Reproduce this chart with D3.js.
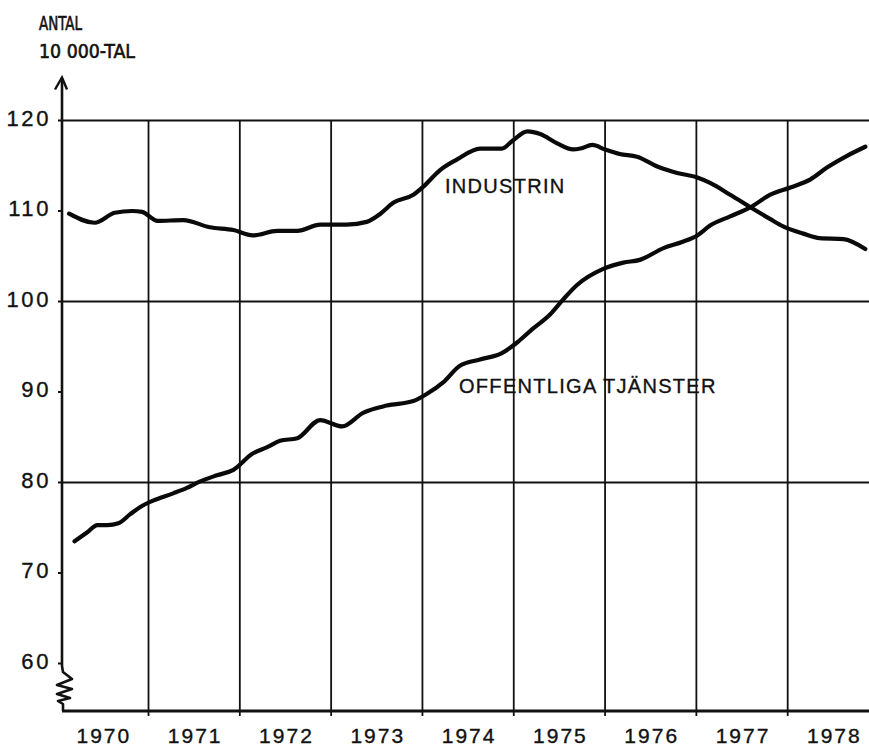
<!DOCTYPE html>
<html>
<head>
<meta charset="utf-8">
<script src="https://cdn.jsdelivr.net/npm/d3@7"></script>
<style>
  body { margin: 0; background: #fff; }
  svg { display: block; }
  .num { font-family: "Liberation Sans", Arial, sans-serif; fill: #111; stroke: #111; stroke-width: 0.35; }
</style>
</head>
<body>
<div id="chart"></div>
<script>
// values (tid i decimala år, antal i 10 000-tal)
const industriTime = [1970.13, 1970.41, 1970.63, 1970.82, 1970.93, 1971.10, 1971.38, 1971.67, 1971.93,
  1972.14, 1972.41, 1972.63, 1972.88, 1973.17, 1973.39, 1973.54, 1973.68, 1973.90, 1974.01, 1974.19,
  1974.38, 1974.63, 1974.87, 1974.99, 1975.15, 1975.29, 1975.47, 1975.65, 1975.73, 1975.86, 1976.00,
  1976.16, 1976.35, 1976.60, 1976.79, 1977.01, 1977.15, 1977.37, 1977.61, 1977.81, 1977.95, 1978.17,
  1978.35, 1978.61, 1978.85];
const industriValues = [109.7, 108.7, 109.8, 110.0, 109.9, 108.9, 109.0, 108.2, 107.9,
  107.3, 107.8, 107.8, 108.5, 108.5, 108.8, 109.7, 110.9, 111.8, 112.7, 114.5,
  115.7, 116.9, 116.9, 117.8, 118.8, 118.5, 117.5, 116.8, 116.9, 117.3, 116.8,
  116.3, 116.0, 114.8, 114.2, 113.7, 113.1, 111.8, 110.3, 109.1, 108.3, 107.5,
  107.0, 106.9, 105.8];

const offentligaTime = [1970.19, 1970.33, 1970.44, 1970.55, 1970.67, 1970.80, 1970.91, 1971.05, 1971.27,
  1971.42, 1971.56, 1971.75, 1971.93, 1972.14, 1972.30, 1972.44, 1972.63, 1972.88, 1973.12, 1973.35,
  1973.61, 1973.90, 1974.05, 1974.23, 1974.41, 1974.63, 1974.87, 1975.04, 1975.21, 1975.40, 1975.53,
  1975.69, 1975.98, 1976.20, 1976.38, 1976.64, 1976.85, 1977.01, 1977.15, 1977.37, 1977.59, 1977.81,
  1978.03, 1978.25, 1978.43, 1978.65, 1978.85];
const offentligaValues = [73.5, 74.5, 75.3, 75.3, 75.5, 76.5, 77.3, 78.0, 78.8,
  79.4, 80.1, 80.8, 81.4, 83.2, 83.9, 84.6, 84.9, 86.9, 86.2, 87.7,
  88.5, 89.0, 89.8, 91.1, 92.9, 93.6, 94.3, 95.5, 97.0, 98.6, 100.1,
  101.8, 103.6, 104.3, 104.6, 105.9, 106.6, 107.3, 108.4, 109.4, 110.4, 111.8,
  112.6, 113.5, 114.8, 116.1, 117.1];

const years = [1970, 1971, 1972, 1973, 1974, 1975, 1976, 1977, 1978];
const yTicks = [60, 70, 80, 90, 100, 110, 120];
const gridValues = [80, 100, 120];

const width = 869, height = 746;
const axisX = 62, baseY = 711, right = 869;

const svg = d3.select("#chart").append("svg")
  .attr("width", width)
  .attr("height", height);

const x = d3.scaleLinear().domain([1970, 1979]).range([57.2, 879]);
const y = d3.scaleLinear().domain([60, 120]).range([663.5, 120.5]);

// horisontella rutlinjer
svg.append("g").selectAll("line")
  .data(gridValues)
  .join("line")
  .attr("x1", axisX - 4).attr("x2", right)
  .attr("y1", d => y(d)).attr("y2", d => y(d))
  .attr("stroke", "#111").attr("stroke-width", 2.2);

// vertikala linjer mellan åren
svg.append("g").selectAll("line")
  .data(years.slice(1))
  .join("line")
  .attr("x1", d => x(d)).attr("x2", d => x(d))
  .attr("y1", y(120)).attr("y2", baseY + 5)
  .attr("stroke", "#111").attr("stroke-width", 1.8);

// y-axel med pil och bruten skala
const breakPts = [[axisX, y(120) - 42], [axisX, 666], [axisX + 1, 672], [72, 679], [57, 685], [72, 689],
  [57, 694], [70, 698], [58, 701], [axisX + 1, 704], [axisX + 1, baseY]];
svg.append("path")
  .attr("d", d3.line()(breakPts))
  .attr("fill", "none").attr("stroke", "#111").attr("stroke-width", 2.6)
  .attr("stroke-linejoin", "round");
svg.append("path")
  .attr("d", d3.line()([[axisX - 7, y(120) - 31], [axisX, y(120) - 43], [axisX + 5, y(120) - 31]]))
  .attr("fill", "none").attr("stroke", "#111").attr("stroke-width", 2.4);

// x-axel
svg.append("line")
  .attr("x1", axisX).attr("x2", right)
  .attr("y1", baseY).attr("y2", baseY)
  .attr("stroke", "#111").attr("stroke-width", 2.8);

// små streck vid y-värdena
svg.append("g").selectAll("line")
  .data(yTicks.filter(d => !gridValues.includes(d)))
  .join("line")
  .attr("x1", axisX - 4).attr("x2", axisX)
  .attr("y1", d => y(d)).attr("y2", d => y(d))
  .attr("stroke", "#111").attr("stroke-width", 2);

svg.append("g").selectAll("text")
  .data(yTicks)
  .join("text")
  .attr("class", "num")
  .attr("x", 51)
  .attr("y", d => y(d) + 5)
  .attr("text-anchor", "end")
  .attr("font-size", 22)
  .attr("letter-spacing", 2.6)
  .text(d => d);

svg.append("g").selectAll("text")
  .data(years)
  .join("text")
  .attr("class", "num")
  .attr("x", d => x(d + 0.5) + 1)
  .attr("y", 743)
  .attr("text-anchor", "middle")
  .attr("font-size", 21)
  .attr("letter-spacing", 2)
  .text(d => d);

// axeltitel
const title = svg.append("g")
  .attr("font-family", "'Liberation Sans Narrow', 'DejaVu Sans Condensed', sans-serif")
  .attr("font-size", 20)
  .attr("fill", "#111")
  .attr("stroke", "#111")
  .attr("stroke-width", 0.6);
title.append("text").attr("x", 39).attr("y", 30)
  .attr("textLength", 43).attr("lengthAdjust", "spacingAndGlyphs").text("ANTAL");
title.append("text").attr("x", 39).attr("y", 58)
  .attr("textLength", 96).attr("lengthAdjust", "spacingAndGlyphs").text("10 000-TAL");

// kurvorna
const line = d3.line()
  .x(d => x(d[0]))
  .y(d => y(d[1]))
  .curve(d3.curveMonotoneX);

const series = [
  { name: "INDUSTRIN", data: d3.zip(industriTime, industriValues), lx: 445, ly: 193 },
  { name: "OFFENTLIGA TJÄNSTER", data: d3.zip(offentligaTime, offentligaValues), lx: 459, ly: 393 }
];

svg.append("g").selectAll("path")
  .data(series)
  .join("path")
  .attr("d", d => line(d.data))
  .attr("fill", "none")
  .attr("stroke", "#0a0a0a")
  .attr("stroke-width", 4.2)
  .attr("stroke-linejoin", "round")
  .attr("stroke-linecap", "round");

svg.append("g").selectAll("text")
  .data(series)
  .join("text")
  .attr("class", "num")
  .attr("x", d => d.lx)
  .attr("y", d => d.ly)
  .attr("font-size", 20)
  .attr("letter-spacing", 1.3)
  .text(d => d.name);
</script>
</body>
</html>
